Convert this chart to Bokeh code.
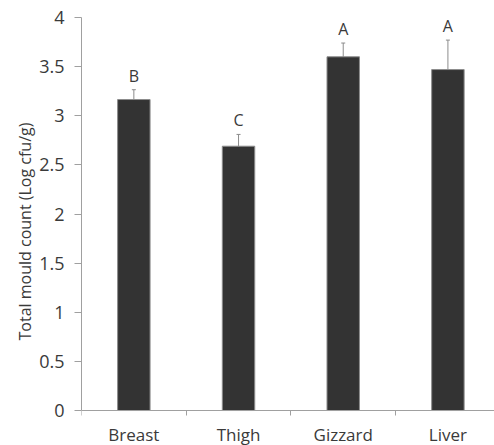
from bokeh.plotting import figure
from bokeh.models import (ColumnDataSource, Range1d, FixedTicker, Whisker, TeeHead,
                          CustomJSTickFormatter)
from bokeh.core.properties import value
from bokeh.embed import file_html
from bokeh.resources import INLINE

categories = ["Breast", "Thigh", "Gizzard", "Liver"]
means = [3.165, 2.69, 3.60, 3.47]
errors = [0.10, 0.12, 0.14, 0.30]
letters = ["B", "C", "A", "A"]
y_ticks = [0, 0.5, 1, 1.5, 2, 2.5, 3, 3.5, 4]

xs = [i + 0.5 for i in range(len(categories))]
src = ColumnDataSource(dict(
    x=xs, top=means, upper=[m + e for m, e in zip(means, errors)],
    letter=letters,
))

FONT = "Open Sans"
TXT = "#3a3a3a"
AX = "#a0a0a0"

# frame runs to the bottom edge; the x axis is pinned at y=0 so its labels
# sit in the space below zero (as in the original, where they touch the edge)
p = figure(width=494, height=445, output_backend="svg", toolbar_location=None,
           x_range=Range1d(0, 3.945), y_range=Range1d(-0.356, 4),
           min_border_left=81, min_border_right=0, min_border_top=17,
           min_border_bottom=0)
p.outline_line_color = None
p.xgrid.visible = False
p.ygrid.visible = False
p.background_fill_color = "white"
p.border_fill_color = "white"

p.vbar(x="x", top="top", bottom=0, width=0.31, source=src,
       fill_color="#333333", line_color="#8c8c8c", line_width=1)

p.add_layout(Whisker(base="x", lower="top", upper="upper", source=src,
                     line_color="#8c8c8c", line_width=1,
                     upper_head=TeeHead(size=4, line_color="#8c8c8c", line_width=1),
                     lower_head=None))

p.text(x="x", y="upper", text="letter", source=src,
       text_font=value(FONT), text_font_size="16px", text_color=TXT,
       text_align="center", text_baseline="alphabetic", y_offset=-14)

# y axis
p.yaxis.ticker = FixedTicker(ticks=y_ticks, minor_ticks=[])
p.yaxis.bounds = (y_ticks[0], y_ticks[-1])
p.yaxis.formatter = CustomJSTickFormatter(code="return String(tick)")
p.yaxis.axis_line_color = AX
p.yaxis.major_tick_line_color = AX
p.yaxis.major_tick_out = 7
p.yaxis.major_tick_in = 0
p.yaxis.minor_tick_line_color = None
p.yaxis.major_label_text_font = FONT
p.yaxis.major_label_text_font_size = "18px"
p.yaxis.major_label_text_color = TXT
p.yaxis.major_label_standoff = 10
p.yaxis.axis_label = "Total mould count (Log cfu/g)"
p.yaxis.axis_label_text_font = FONT
p.yaxis.axis_label_text_font_size = "16px"
p.yaxis.axis_label_text_font_style = "normal"
p.yaxis.axis_label_text_color = TXT
p.yaxis.axis_label_standoff = 0

# x axis
p.xaxis.fixed_location = y_ticks[0]
p.xaxis.ticker = FixedTicker(ticks=xs, minor_ticks=list(range(len(categories))))
p.xaxis.major_label_overrides = {x: c for x, c in zip(xs, categories)}
p.xaxis.axis_line_color = AX
p.xaxis.major_tick_line_color = None
p.xaxis.major_tick_out = 0
p.xaxis.major_tick_in = 0
p.xaxis.minor_tick_line_color = AX
p.xaxis.minor_tick_out = 5
p.xaxis.minor_tick_in = 0
p.xaxis.major_label_text_font = FONT
p.xaxis.major_label_text_font_size = "17px"
p.xaxis.major_label_text_color = TXT
p.xaxis.major_label_standoff = 7

open("out.html", "w").write(file_html(p, INLINE))
